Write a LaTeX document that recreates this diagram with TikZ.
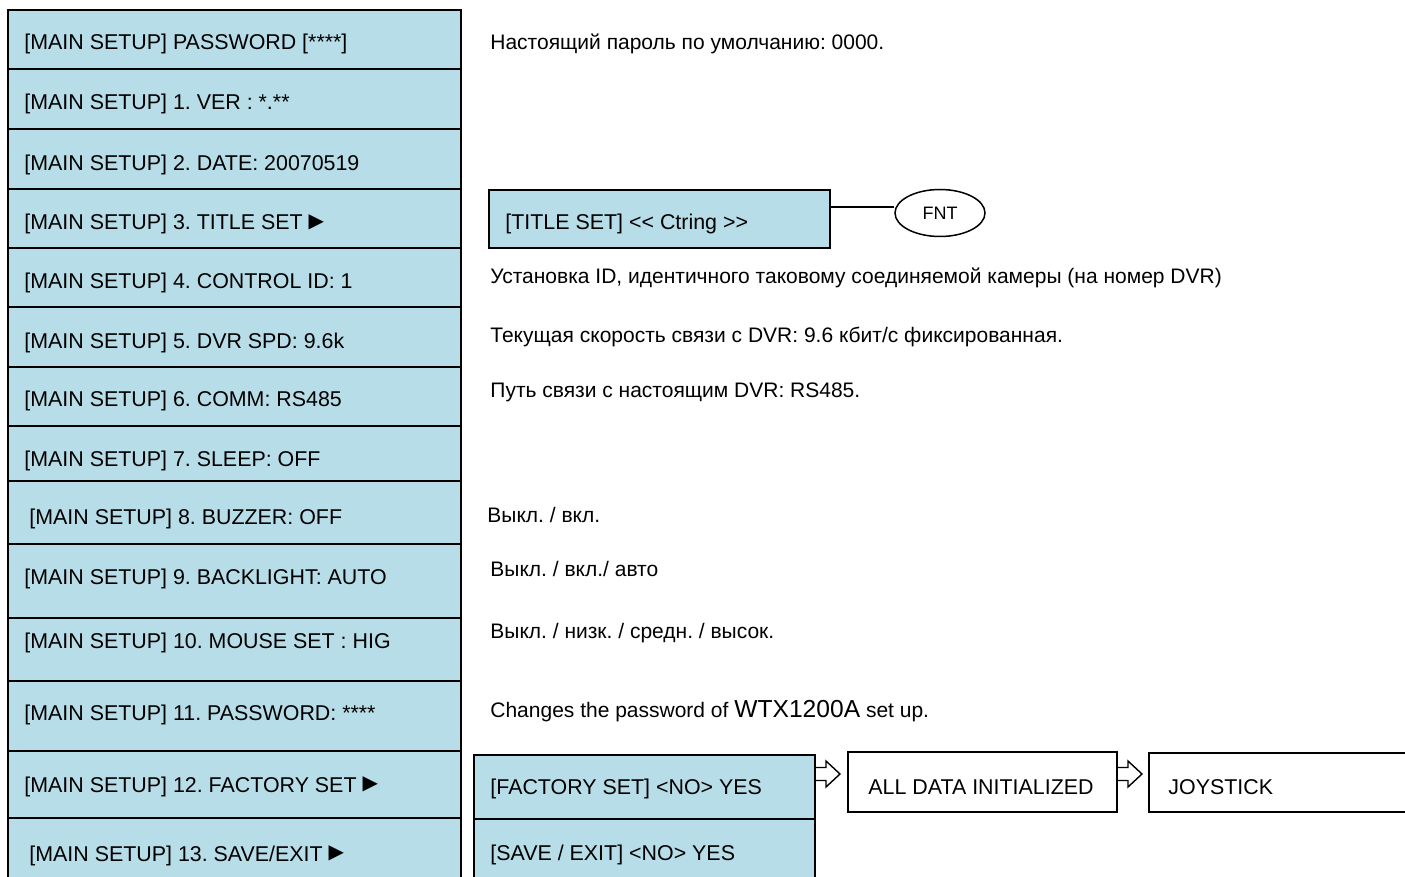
\documentclass[tikz,border=0pt]{standalone}
\usepackage{fontspec}
\setmainfont{Liberation Sans}
\newfontfamily\symfont{DejaVu Sans}
\usetikzlibrary{calc,shapes.geometric}
\definecolor{cell}{HTML}{B7DDE8}
\frenchspacing

\newcommand{\tri}{\raisebox{1.2pt}{\symfont\fontsize{10}{10}\selectfont ▶}}
\newcommand{\hollowarrow}[1]{%
  \draw[fill=white,line width=0.7pt,line join=miter] (#1) ++(0,-6.5) -- ++(10,0) -- ++(0,-6.5)
    -- ++(14,13) -- ++(-14,13) -- ++(0,-6.5) -- ++(-10,0);}

\begin{document}
\begin{tikzpicture}[x=0.5pt,y=-0.5pt,font=\fontsize{10.7}{12}\selectfont,
  box/.style={fill=cell,draw=black,line width=1pt},
  plain/.style={draw=black,line width=1pt},
  lbl/.style={anchor=base west,inner sep=0pt},
  note/.style={anchor=base west,inner sep=0pt,font=\fontsize{10.5}{12}\selectfont}]
  \useasboundingbox (0,0) rectangle (1405,877);
  % main setup column
  \foreach \i/\t/\b/\y/\x/\txt in {
      0/10/69/50/24/{[MAIN SETUP] PASSWORD [****]},
      1/69/129/110/24/{[MAIN SETUP] 1. VER : *.**},
      2/129/189/171/24/{[MAIN SETUP] 2. DATE: 20070519},
      3/189/248/230/24/{[MAIN SETUP] 3. TITLE SET \tri},
      4/248/307/289/24/{[MAIN SETUP] 4. CONTROL ID: 1},
      5/307/367/349/24/{[MAIN SETUP] 5. DVR SPD: 9.6k},
      6/367/426/407/24/{[MAIN SETUP] 6. COMM: RS485},
      7/426/481/467/24/{[MAIN SETUP] 7. SLEEP: OFF},
      8/481/544/524/29/{[MAIN SETUP] 8. BUZZER: OFF},
      9/544/618/585/24/{[MAIN SETUP] 9. BACKLIGHT: AUTO},
      10/618/681/648/24/{[MAIN SETUP] 10. MOUSE SET : HIG},
      11/681/751/720/24/{[MAIN SETUP] 11. PASSWORD: ****},
      12/751/818/792/24/{[MAIN SETUP] 12. FACTORY SET \tri},
      13/818/885/861/29/{[MAIN SETUP] 13. SAVE/EXIT \tri}}{
    \draw[box] (8,\t) rectangle (461,\b);
    \node[lbl] (m\i) at (\x,\y) {\txt};
  }
  % notes
  \node[note] (n0) at (490,50) {Настоящий пароль по умолчанию: 0000.};
  \node[note] (n4) at (490,284) {Установка ID, идентичного таковому соединяемой камеры (на номер DVR)};
  \node[note] (n5) at (490,343) {Текущая скорость связи с DVR: 9.6 кбит/с фиксированная.};
  \node[note] (n6) at (490,398) {Путь связи с настоящим DVR: RS485.};
  \node[note] (n8) at (487,523) {Выкл. / вкл.};
  \node[note] (n9) at (490,577) {Выкл. / вкл./ авто};
  \node[note] (n10) at (490,639) {Выкл. / низк. / средн. / высок.};
  \node[note] (n11) at (490,718) {Changes the password of {\fontsize{12.3}{14}\selectfont WTX1200A} set up.};
  % title set
  \node[box,anchor=north west,minimum width=170.5pt,minimum height=29pt,line width=0.8pt] (ttl) at (488,189) {};
  \node[lbl] (ttltxt) at (505,230) {[TITLE SET] <\kern0pt< Ctring >\kern0pt>};
  \node[ellipse,draw,line width=0.75pt,minimum width=45pt,minimum height=23.5pt,inner sep=0pt,
    font=\fontsize{9}{10}\selectfont] (fnt) at (940,213) {FNT};
  \coordinate (tl) at ($(ttl.north east)+(0,18)$);
  \draw[line width=0.7pt] (tl) -- (tl -| fnt.west);
  % factory set / save
  \node[box,anchor=north west,minimum width=170.5pt,minimum height=32pt] (fac) at (473,754) {};
  \node[box,anchor=north west,minimum width=170.5pt,minimum height=34pt] (sav) at (473,818) {};
  \node[lbl] (factxt) at (490,794) {[FACTORY SET] <NO> YES};
  \node[lbl] (savtxt) at (490,860) {[SAVE / EXIT] <NO> YES};
  \node[plain,anchor=north west,minimum width=134.5pt,minimum height=30pt] (alldata) at (847,751) {};
  \node[lbl] (alltxt) at (868,794) {ALL DATA INITIALIZED};
  \node[plain,anchor=north west,minimum width=140pt,minimum height=29.5pt] (joy) at (1148,752) {};
  \node[lbl] (joytxt) at (1168,794) {JOYSTICK};
  \coordinate (a1) at ($(fac.north east)+(0,20)$);
  \coordinate (a2) at ($(alldata.north east)+(0,23)$);
  \hollowarrow{a1}
  \hollowarrow{a2}
\end{tikzpicture}
\end{document}
